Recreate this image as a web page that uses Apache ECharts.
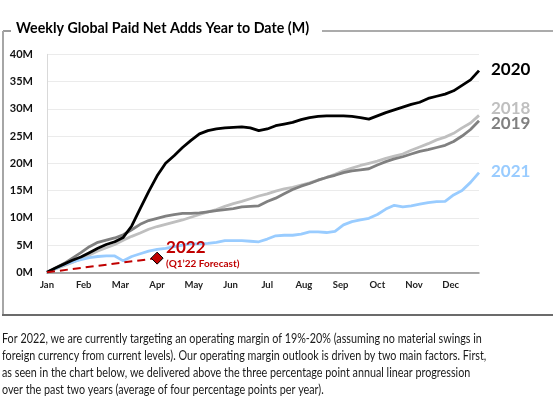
<!DOCTYPE html>
<html>
<head>
<meta charset="utf-8">
<script src="https://cdn.jsdelivr.net/npm/echarts@6/dist/echarts.min.js"></script>
<style>
html,body{margin:0;padding:0;background:#fff;}
#c{width:553px;height:396px;}
</style>
</head>
<body>
<div id="c"></div>
<script>
// ---- data (weekly cumulative paid net adds, millions) ----
const months = ['Jan','Feb','Mar','Apr','May','Jun','Jul','Aug','Sep','Oct','Nov','Dec'];
const weeks = Array.from({length: 52}, (_, i) => i);
const y2018 = [0,0.6,1.2,1.8,2.5,3.2,3.9,4.5,5.1,5.9,6.6,7.2,7.9,8.4,8.8,9.2,9.6,10.1,10.6,11.1,11.5,12.1,12.6,13.0,13.5,14.0,14.4,14.9,15.3,15.6,16.0,16.4,16.9,17.4,18.0,18.6,19.1,19.6,20.0,20.4,20.9,21.3,21.7,22.4,23.0,23.6,24.3,24.8,25.5,26.5,27.4,28.8];
const y2019 = [0,0.8,1.6,2.6,3.6,4.7,5.5,5.9,6.3,6.9,7.8,8.8,9.5,9.9,10.3,10.6,10.8,10.8,10.9,11.1,11.3,11.5,11.7,12.0,12.1,12.2,13.0,13.6,14.4,15.2,15.8,16.3,16.9,17.4,17.8,18.3,18.6,18.8,19.0,19.7,20.3,20.8,21.2,21.7,22.2,22.5,22.9,23.3,24.0,25.0,26.2,27.8];
const y2020 = [0,0.8,1.5,2.2,2.8,3.6,4.4,5.1,5.6,6.4,8.5,11.7,14.8,17.7,20.0,21.4,22.9,24.2,25.4,26.0,26.3,26.5,26.6,26.7,26.5,26.0,26.3,26.9,27.2,27.5,28.0,28.4,28.6,28.7,28.7,28.7,28.6,28.4,28.1,28.7,29.3,29.8,30.3,30.8,31.2,31.9,32.3,32.7,33.3,34.3,35.3,37.0];
const y2021 = [0,0.7,1.4,1.9,2.3,2.7,2.9,3.0,3.0,2.1,2.9,3.4,3.9,4.2,4.4,4.7,5.0,5.2,5.2,5.3,5.5,5.8,5.8,5.8,5.7,5.6,6.1,6.7,6.8,6.8,7.0,7.4,7.4,7.3,7.5,8.7,9.3,9.6,9.9,10.6,11.6,12.3,12.0,12.2,12.5,12.8,12.95,13.0,14.2,15.0,16.5,18.3];
const weeks2022 = [0, 13];
const y2022 = [0, 2.6];
const yTicks = [0,5,10,15,20,25,30,35,40];

const titleText = 'Weekly Global Paid Net Adds Year to Date (M)';
const paragraph = [
  'For 2022, we are currently targeting an operating margin of 19%-20% (assuming no material swings in',
  'foreign currency from current levels). Our operating margin outlook is driven by two main factors. First,',
  'as seen in the chart below, we delivered above the three percentage point annual linear progression',
  'over the past two years (average of four percentage points per year).'
];

const FONT = 'Lato, "Open Sans", sans-serif';
const monthStep = 52 / 12;
const pair = (xs, ys) => ys.map((v, i) => [xs[i], v]);

const chart = echarts.init(document.getElementById('c'), null, {renderer: 'canvas'});

function lineSeries(name, data, color, width, z, labelOffset) {
  return {
    name: name, type: 'line', data: pair(weeks, data), showSymbol: false, z: z,
    lineStyle: {color: color, width: width}, itemStyle: {color: color},
    endLabel: {show: true, formatter: name, color: color, fontFamily: FONT, fontWeight: 'bold',
      fontSize: 17, distance: 12, offset: labelOffset},
    emphasis: {disabled: true}, silent: true
  };
}

const graphics = [
  {type: 'text', x: 16, y: 21, scaleX: 0.95, z: 10, style: {text: titleText, font: 'bold 15px ' + FONT, fill: '#000'}},
  {type: 'line', z: 5, shape: {x1: 3, y1: 31, x2: 11, y2: 31}, style: {stroke: '#595959', lineWidth: 1.2}},
  {type: 'line', z: 5, shape: {x1: 322, y1: 31, x2: 553, y2: 31}, style: {stroke: '#595959', lineWidth: 1.2}},
  {type: 'line', z: 5, shape: {x1: 3, y1: 31, x2: 3, y2: 315}, style: {stroke: '#a6a6a6', lineWidth: 2}},
  {type: 'line', z: 5, shape: {x1: 2, y1: 315, x2: 553, y2: 315}, style: {stroke: '#6b6b6b', lineWidth: 2}}
];
paragraph.forEach((t, i) => {
  graphics.push({type: 'text', x: 2, y: 332 + i * 17.3, scaleX: 0.855,
    style: {text: t, font: '12.6px ' + FONT, fill: '#1a1a1a'}});
});

chart.setOption({
  animation: false,
  backgroundColor: '#fff',
  grid: {left: 47, right: 74, top: 54.3, bottom: 123.7},
  graphic: graphics,
  xAxis: {
    type: 'value', min: 0, max: 51, interval: monthStep,
    axisLine: {show: true, lineStyle: {color: '#8c8c8c', width: 1.5}},
    axisTick: {show: false}, splitLine: {show: false},
    axisLabel: {
      margin: 8, fontFamily: FONT, fontWeight: 'bold', fontSize: 9.5, color: '#222',
      formatter: function (v) {
        const i = v / monthStep; const r = Math.round(i);
        return Math.abs(i - r) < 0.01 && months[r] ? months[r] : '';
      }
    }
  },
  yAxis: {
    type: 'value', min: yTicks[0], max: yTicks[yTicks.length - 1], interval: yTicks[1] - yTicks[0],
    axisLine: {show: true, lineStyle: {color: '#d9d9d9', width: 1}},
    axisTick: {show: false},
    splitLine: {lineStyle: {color: '#ebebeb', width: 1}},
    axisLabel: {margin: 14, fontFamily: FONT, fontWeight: 'bold', fontSize: 11, color: '#111', formatter: '{value}M'}
  },
  series: [
    lineSeries('2018', y2018, '#bfbfbf', 2.8, 2, [0, -7]),
    lineSeries('2019', y2019, '#808080', 2.8, 3, [0, 3]),
    lineSeries('2021', y2021, '#99ccff', 2.8, 4, [0, -1]),
    lineSeries('2020', y2020, '#000000', 2.8, 5, [0, -1]),
    {
      name: '2022', type: 'line', data: pair(weeks2022, y2022), z: 6, silent: true,
      showSymbol: true, symbolSize: 12,
      symbol: function (val, params) { return params.dataIndex === y2022.length - 1 ? 'diamond' : 'none'; },
      lineStyle: {color: '#c00000', width: 2, type: [8, 5]},
      itemStyle: {color: '#c00000', borderColor: '#000', borderWidth: 1},
      endLabel: {
        show: true, distance: 9, offset: [0, -4],
        formatter: '{a|2022}\n{b|(Q1’22 Forecast)}',
        rich: {
          a: {fontFamily: FONT, fontWeight: 'bold', fontSize: 17, color: '#c00000', lineHeight: 19},
          b: {fontFamily: FONT, fontWeight: 'bold', fontSize: 10, color: '#c00000', lineHeight: 13}
        }
      }
    }
  ]
});
</script>
</body>
</html>
